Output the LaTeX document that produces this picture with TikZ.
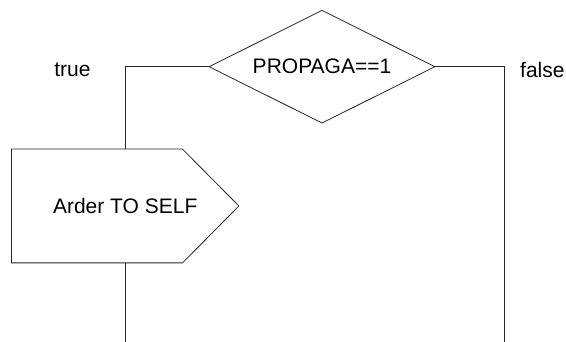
\documentclass[tikz,border=0pt]{standalone}
\usepackage{fontspec}
\setmainfont{Liberation Sans}
\usetikzlibrary{shapes.geometric}
\begin{document}
\begin{tikzpicture}[x=1pt,y=-1pt,
  flowline/.style={draw=black!85,line width=0.8pt},
  txt/.style={font=\fontsize{21}{25}\selectfont},
  decision/.style={diamond,flowline,aspect=2,inner sep=0pt,
    minimum width=226pt,minimum height=113pt,txt},
  sendbox/.style={rectangle,inner sep=0pt,
    minimum width=227pt,minimum height=113.4pt,txt},
  label/.style={txt,inner sep=0pt}]
  \useasboundingbox (0,0) rectangle (566,342);
  % decision box
  \node[decision] (d) at (322,66.7) {PROPAGA==1};
  % send-signal box: pentagon pointing east
  \node[sendbox] (s) at (125.2,206) {Arder TO SELF};
  \draw[flowline] (s.north west) -- ([xshift=-56.4pt]s.north east) -- (s.east)
    -- ([xshift=-56.4pt]s.south east) -- (s.south west) -- cycle;
  % branch labels
  \node[label] (t) at (72.5,70) {true};
  \node[label,anchor=west] (f) at (520,70) {false};
  % loose ends of the branches
  \coordinate (tend) at (125.2,342);
  \coordinate (fend) at (504,342);
  % connectors
  \draw[flowline] (d.west) -| (s.north);
  \draw[flowline] (s.south) -- (tend);
  \draw[flowline] (d.east) -| (fend);
\end{tikzpicture}
\end{document}
